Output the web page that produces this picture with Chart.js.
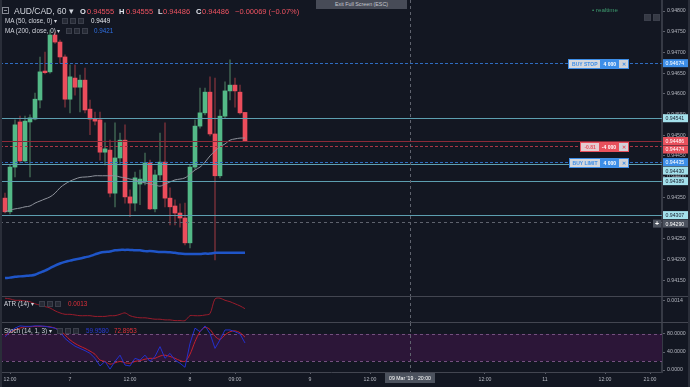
<!DOCTYPE html>
<html>
<head>
<meta charset="utf-8">
<title>AUD/CAD, 60</title>
<script src="https://cdn.jsdelivr.net/npm/chart.js@4.4.1/dist/chart.umd.min.js"></script>
<style>
  html, body { margin: 0; padding: 0; background: #131722; }
  #wrap { position: relative; width: 690px; height: 387px; overflow: hidden; background: #131722;
          font-family: "Liberation Sans", Arial, sans-serif; }
  canvas { position: absolute; left: 0; }
  .sep { position: absolute; left: 0; width: 690px; height: 1px; background: #434651; }
  .t { position: absolute; white-space: nowrap; line-height: 1; }
  .ic { position: absolute; width: 6px; height: 6px; background: #262a35; border: 1px solid #3b3f4b; box-sizing: border-box; }
  .ord { position: absolute; right: 61px; height: 10px; display: flex; box-sizing: border-box;
         font-size: 5px; font-weight: bold; line-height: 8px; }
  .ord span { display: block; text-align: center; }
</style>
</head>
<body>
<div id="wrap">
  <canvas id="mainChart" width="690" height="296" style="top:0"></canvas>
  <canvas id="atrChart" width="690" height="25" style="top:297px"></canvas>
  <canvas id="stochChart" width="690" height="64" style="top:323px"></canvas>

  <div class="sep" style="top:296px"></div>
  <div class="sep" style="top:322px"></div>
  <div style="position:absolute;left:0;top:0;width:2px;height:387px;background:#2a2e39"></div>
  <div style="position:absolute;left:688px;top:0;width:2px;height:387px;background:#2a2e39"></div>

  <!-- legend -->
  <div style="position:absolute;left:2px;top:7px;width:7px;height:7px;border:1px solid #868993;box-sizing:border-box"><div style="margin:2px 1px 0;height:1px;background:#868993"></div></div>
  <div class="t" style="left:14px;top:7px;font-size:8.5px;color:#d1d4dc">AUD/CAD, 60 ▾</div>
  <div class="t" style="left:80px;top:7.5px;font-size:7.5px;color:#e0e3eb;font-weight:bold">O</div>
  <div class="t" style="left:87px;top:7.5px;font-size:7.5px;color:#ef5361">0.94555</div>
  <div class="t" style="left:119px;top:7.5px;font-size:7.5px;color:#e0e3eb;font-weight:bold">H</div>
  <div class="t" style="left:126px;top:7.5px;font-size:7.5px;color:#ef5361">0.94555</div>
  <div class="t" style="left:158px;top:7.5px;font-size:7.5px;color:#e0e3eb;font-weight:bold">L</div>
  <div class="t" style="left:163px;top:7.5px;font-size:7.5px;color:#ef5361">0.94486</div>
  <div class="t" style="left:196px;top:7.5px;font-size:7.5px;color:#e0e3eb;font-weight:bold">C</div>
  <div class="t" style="left:202px;top:7.5px;font-size:7.5px;color:#ef5361">0.94486</div>
  <div class="t" style="left:235px;top:7.5px;font-size:7.5px;color:#ef5361">−0.00069 (−0.07%)</div>

  <div class="t" style="left:5px;top:18px;font-size:6.3px;color:#d1d4dc">MA (50, close, 0) ▾</div>
  <div class="ic" style="left:62px;top:18px"></div><div class="ic" style="left:70px;top:18px"></div><div class="ic" style="left:78px;top:18px"></div>
  <div class="t" style="left:91px;top:18px;font-size:6.3px;color:#e6e8ee">0.9449</div>

  <div class="t" style="left:5px;top:28px;font-size:6.3px;color:#d1d4dc">MA (200, close, 0) ▾</div>
  <div class="ic" style="left:66px;top:28px"></div><div class="ic" style="left:74px;top:28px"></div><div class="ic" style="left:82px;top:28px"></div>
  <div class="t" style="left:94px;top:28px;font-size:6.3px;color:#2f6fe0">0.9421</div>

  <div class="t" style="left:4px;top:301px;font-size:6.3px;color:#d1d4dc">ATR (14) ▾</div>
  <div class="ic" style="left:39px;top:301px"></div><div class="ic" style="left:47px;top:301px"></div><div class="ic" style="left:55px;top:301px"></div>
  <div class="t" style="left:68px;top:301px;font-size:6.3px;color:#e0303a">0.0013</div>

  <div class="t" style="left:4px;top:328px;font-size:6.3px;color:#d1d4dc">Stoch (14, 1, 3) ▾</div>
  <div class="ic" style="left:57px;top:328px"></div><div class="ic" style="left:65px;top:328px"></div><div class="ic" style="left:73px;top:328px"></div>
  <div class="t" style="left:86px;top:328px;font-size:6.3px;color:#2a3ad8">59.9580</div>
  <div class="t" style="left:114px;top:328px;font-size:6.3px;color:#e0303a">72.8953</div>

  <div class="t" style="left:316px;top:0;width:91px;height:9px;background:#474b57;color:#c5c8cf;font-size:5.3px;line-height:9px;text-align:center">Exit Full Screen (ESC)</div>

  <div class="t" style="left:592px;top:7px;font-size:6.2px;color:#3d9a6e">• realtime</div>
  <div class="ic" style="left:644px;top:14px;width:7px;height:7px;background:#363a45"></div>
  <div class="ic" style="left:653px;top:14px;width:7px;height:7px;background:#363a45"></div>
</div>

<script>
// hours since 6 Mar 2019 00:00 (one candle per hour)
const candleHours = [11, 12, 13, 14, 15, 16, 17, 18, 19, 20, 21, 22, 23, 24, 25, 26, 27, 28, 29, 30,
  31, 32, 33, 34, 35, 36, 37, 38, 39, 40, 41, 42, 43, 44, 45, 46, 47, 48, 49, 50,
  51, 52, 53, 54, 55, 56, 57, 58, 59];
const opens = [0.94348, 0.94315, 0.94423, 0.94532, 0.94438, 0.94532, 0.94539, 0.94585, 0.94655, 0.94653,
  0.94742, 0.94725, 0.94689, 0.94587, 0.94638, 0.94616, 0.94633, 0.94563, 0.94539, 0.94537,
  0.94459, 0.94464, 0.94360, 0.94445, 0.94488, 0.94351, 0.94336, 0.94382, 0.94389, 0.94433,
  0.94322, 0.94404, 0.94435, 0.94348, 0.94329, 0.94312, 0.94300, 0.94240, 0.94423, 0.94522,
  0.94554, 0.94604, 0.94503, 0.94402, 0.94546, 0.94607, 0.94621, 0.94604, 0.94555];
const highs = [0.94360, 0.94428, 0.94537, 0.94546, 0.94546, 0.94549, 0.94602, 0.94689, 0.94701, 0.94754,
  0.94749, 0.94730, 0.94694, 0.94670, 0.94670, 0.94645, 0.94662, 0.94585, 0.94556, 0.94556,
  0.94530, 0.94488, 0.94530, 0.94505, 0.94525, 0.94368, 0.94411, 0.94416, 0.94457, 0.94440,
  0.94416, 0.94505, 0.94530, 0.94373, 0.94344, 0.94334, 0.94336, 0.94428, 0.94537, 0.94614,
  0.94614, 0.94641, 0.94638, 0.94561, 0.94629, 0.94682, 0.94638, 0.94621, 0.94555];
const lows = [0.94312, 0.94310, 0.94399, 0.94433, 0.94435, 0.94399, 0.94537, 0.94566, 0.94648, 0.94650,
  0.94722, 0.94674, 0.94568, 0.94554, 0.94597, 0.94556, 0.94554, 0.94501, 0.94525, 0.94440,
  0.94428, 0.94351, 0.94327, 0.94428, 0.94336, 0.94303, 0.94317, 0.94332, 0.94380, 0.94320,
  0.94315, 0.94392, 0.94327, 0.94283, 0.94283, 0.94278, 0.94235, 0.94228, 0.94418, 0.94517,
  0.94549, 0.94498, 0.94199, 0.94397, 0.94542, 0.94585, 0.94568, 0.94551, 0.94486];
const closes = [0.94315, 0.94423, 0.94525, 0.94438, 0.94534, 0.94542, 0.94587, 0.94653, 0.94651, 0.94742,
  0.94725, 0.94689, 0.94587, 0.94641, 0.94616, 0.94633, 0.94561, 0.94539, 0.94534, 0.94459,
  0.94467, 0.94360, 0.94445, 0.94488, 0.94351, 0.94336, 0.94397, 0.94394, 0.94433, 0.94322,
  0.94404, 0.94435, 0.94348, 0.94327, 0.94312, 0.94300, 0.94240, 0.94423, 0.94522, 0.94554,
  0.94604, 0.94503, 0.94402, 0.94546, 0.94607, 0.94621, 0.94607, 0.94554, 0.94486];
const ma50 = [0.94315, 0.94319, 0.94322, 0.94324, 0.94327, 0.94329, 0.94336, 0.94341, 0.94346, 0.94351,
  0.94360, 0.94373, 0.94382, 0.94389, 0.94394, 0.94398, 0.94399, 0.94400, 0.94402, 0.94402,
  0.94402, 0.94402, 0.94402, 0.94399, 0.94397, 0.94394, 0.94392, 0.94387, 0.94385, 0.94382,
  0.94380, 0.94377, 0.94382, 0.94387, 0.94392, 0.94394, 0.94397, 0.94406, 0.94416, 0.94423,
  0.94435, 0.94450, 0.94462, 0.94472, 0.94479, 0.94488, 0.94491, 0.94493, 0.94493];
const ma200 = [0.94155, 0.94156, 0.94158, 0.94159, 0.94160, 0.94161, 0.94163, 0.94168, 0.94173, 0.94179,
  0.94185, 0.94190, 0.94194, 0.94197, 0.94200, 0.94202, 0.94205, 0.94208, 0.94212, 0.94216,
  0.94218, 0.94219, 0.94222, 0.94223, 0.94223, 0.94223, 0.94222, 0.94222, 0.94220, 0.94220,
  0.94219, 0.94218, 0.94218, 0.94217, 0.94216, 0.94214, 0.94213, 0.94213, 0.94213, 0.94213,
  0.94214, 0.94214, 0.94216, 0.94216, 0.94216, 0.94216, 0.94216, 0.94216, 0.94216];
const atr = [0.00144, 0.00143, 0.00141, 0.00141, 0.00140, 0.00139, 0.00136, 0.00134, 0.00132, 0.00130,
  0.00126, 0.00123, 0.00121, 0.00121, 0.00120, 0.00119, 0.00119, 0.00119, 0.00118, 0.00118,
  0.00118, 0.00119, 0.00119, 0.00121, 0.00123, 0.00119, 0.00117, 0.00116, 0.00116, 0.00115,
  0.00114, 0.00114, 0.00113, 0.00113, 0.00112, 0.00112, 0.00112, 0.00119, 0.00119, 0.00119,
  0.00120, 0.00122, 0.00143, 0.00144, 0.00141, 0.00139, 0.00136, 0.00133, 0.00129];
const stochK = [74, 85, 93, 98, 97, 97, 98, 98, 97, 95, 93, 85, 70, 61, 53, 48, 43, 37, 26, 9,
  19, 2, 19, 33, 11, 9, 26, 22, 33, 19, 30, 52, 26, 37, 22, 15, 6, 59, 93, 85,
  98, 81, 48, 67, 89, 89, 85, 80, 60];
const stochD = [78, 83, 89, 93, 96, 96, 97, 97, 97, 96, 93, 89, 78, 67, 59, 53, 48, 42, 35, 22,
  19, 13, 16, 19, 16, 15, 19, 21, 24, 26, 26, 31, 33, 30, 26, 21, 19, 35, 63, 85,
  95, 90, 75, 68, 78, 85, 87, 83, 73];

const priceTicks = [0.9415, 0.942, 0.9425, 0.943, 0.9435, 0.944, 0.9445, 0.945, 0.9455, 0.946, 0.9465, 0.947, 0.9475, 0.948];
const atrTicks = [0.0014];
const stochTicks = [0, 40, 80];
const stochBands = [20, 80];
const xTickHours = [12, 24, 36, 48, 57, 72, 84, 107, 119, 131, 140];
const xTickLabels = ['12:00', '7', '12:00', '8', '09:00', '9', '12:00', '12:00', '11', '12:00', '21:00'];

// horizontal levels on the price pane
const lineLevels = [0.94674, 0.94541, 0.94486, 0.94474, 0.94435, 0.94430, 0.94389, 0.94307];
const lineKinds = ['order', 'hline', 'price', 'position', 'order', 'hline', 'hline', 'hline'];
const orderPrices = [0.94674, 0.94474, 0.94435];
const orderLabels = ['BUY STOP', '-0.81', 'BUY LIMIT'];
const orderQtys = ['4 000', '-4 000', '4 000'];
const orderKinds = ['order', 'position', 'order'];

const crossHour = 92;
const crossPrice = 0.94290;
const crossLabel = "09 Mar '19 · 20:00";

const fontFamily = '"Liberation Sans", Arial, sans-serif';
const tickFont = { family: fontFamily, size: 5.2 };
const axisText = '#b2b5be';
const upColor = '#53b987', downColor = '#eb4d5c';
const upWick = '#3a5c4d', downWick = '#6a2d37';
const levelStyles = {
  order: { line: '#2f6cc0', dash: [3, 2], tag: '#3d8ee8', text: '#ffffff', light: '#d4d8de' },
  hline: { line: '#5d9fb0', dash: [], tag: '#a4e1ec', text: '#1a2030' },
  price: { line: '#8a2a38', dash: [], tag: '#e8505c', text: '#ffffff' },
  position: { line: '#a83444', dash: [3, 2], tag: '#e8505c', text: '#ffffff', light: '#e4cdd0' },
  cross: { line: '#5f636e', dash: [3, 3], tag: '#4c525e', text: '#ffffff' }
};

const xMin = 10, xMax = 142.4;

function rightAxis(min, max, ticks, digits) {
  return {
    type: 'linear', position: 'right', min: min, max: max,
    afterBuildTicks: s => { s.ticks = ticks.map(v => ({ value: v })); },
    afterFit: s => { s.width = 28; s.paddingTop = 0; s.paddingBottom = 0; },
    ticks: { callback: v => Number(v).toFixed(digits), font: tickFont, color: axisText, padding: 2 },
    grid: { drawOnChartArea: false, tickLength: 3, tickColor: '#5d606b' },
    border: { color: '#363a45', width: 2 }
  };
}

function hiddenX() {
  return { type: 'linear', min: xMin, max: xMax, offset: false, display: false };
}

function tag(ctx, yc, st, text) {
  ctx.fillStyle = st.tag;
  ctx.fillRect(663, yc - 4, 25, 8);
  ctx.fillStyle = st.text;
  ctx.font = '5.2px ' + fontFamily;
  ctx.textAlign = 'left';
  ctx.textBaseline = 'middle';
  ctx.fillText(text, 665.5, yc + 0.5);
}

// dashed vertical crosshair, shared by all panes
const crossV = {
  id: 'crossV',
  afterDatasetsDraw(chart) {
    const { ctx, chartArea: a, scales: { x } } = chart;
    const px = Math.round(x.getPixelForValue(crossHour)) + 0.5;
    ctx.save();
    ctx.strokeStyle = levelStyles.cross.line;
    ctx.lineWidth = 1;
    ctx.setLineDash(levelStyles.cross.dash);
    ctx.beginPath(); ctx.moveTo(px, a.top); ctx.lineTo(px, a.bottom); ctx.stroke();
    ctx.restore();
  }
};

const levelsPlugin = {
  id: 'levels',
  afterDatasetsDraw(chart) {
    const { ctx, chartArea: a, scales: { y } } = chart;
    ctx.save();
    ctx.lineWidth = 1;
    lineLevels.forEach((p, i) => {
      const st = levelStyles[lineKinds[i]];
      const py = Math.round(y.getPixelForValue(p)) + 0.5;
      ctx.strokeStyle = st.line;
      ctx.setLineDash(st.dash);
      ctx.beginPath(); ctx.moveTo(a.left, py); ctx.lineTo(a.right, py); ctx.stroke();
    });
    const cy = Math.round(y.getPixelForValue(crossPrice)) + 0.5;
    ctx.strokeStyle = levelStyles.cross.line;
    ctx.setLineDash(levelStyles.cross.dash);
    ctx.beginPath(); ctx.moveTo(a.left, cy); ctx.lineTo(a.right, cy); ctx.stroke();
    ctx.restore();
  },
  afterDraw(chart) {
    const { ctx, scales: { y } } = chart;
    const tags = lineLevels.map((p, i) => ({ p: p, st: levelStyles[lineKinds[i]], yc: y.getPixelForValue(p) }));
    tags.push({ p: crossPrice, st: levelStyles.cross, yc: y.getPixelForValue(crossPrice) });
    tags.sort((a, b) => a.yc - b.yc);
    let last = -100;
    ctx.save();
    tags.forEach(t => {
      t.yc = Math.max(t.yc, last + 8.5);
      last = t.yc;
      tag(ctx, t.yc, t.st, t.p.toFixed(5));
    });
    // "+" box next to the crosshair price
    const cy = tags.find(t => t.p === crossPrice).yc;
    ctx.fillStyle = levelStyles.cross.tag;
    ctx.fillRect(653, cy - 4, 8, 8);
    ctx.fillStyle = '#ffffff';
    ctx.textAlign = 'center';
    ctx.font = 'bold 7px ' + fontFamily;
    ctx.fillText('+', 657, cy + 0.5);
    ctx.restore();
    orderPrices.forEach((p, i) => {
      document.getElementById('ord' + i).style.top = (Math.round(y.getPixelForValue(p)) - 4.5) + 'px';
    });
  }
};

// order / position boxes
const wrap = document.getElementById('wrap');
orderPrices.forEach((p, i) => {
  const st = levelStyles[orderKinds[i]];
  const d = document.createElement('div');
  d.className = 'ord';
  d.id = 'ord' + i;
  d.style.border = '1px solid ' + st.tag;
  d.innerHTML = '<span style="background:' + st.light + ';color:' + st.tag + ';padding:0 3px">' + orderLabels[i] + '</span>' +
    '<span style="background:' + st.tag + ';color:#fff;padding:0 3px">' + orderQtys[i] + '</span>' +
    '<span style="background:#d0d3d9;color:' + st.tag + ';width:9px">✕</span>';
  wrap.appendChild(d);
});

const isUp = candleHours.map((h, i) => closes[i] >= opens[i]);

new Chart(document.getElementById('mainChart'), {
  type: 'line',
  data: {
    datasets: [
      {
        type: 'line', label: 'MA 50', order: 1,
        data: candleHours.map((h, i) => ({ x: h, y: ma50[i] })),
        borderColor: '#8f939c', borderWidth: 1, pointRadius: 0, tension: 0.4
      },
      {
        type: 'line', label: 'MA 200', order: 2,
        data: candleHours.map((h, i) => ({ x: h, y: ma200[i] })),
        borderColor: '#1f55c8', borderWidth: 2.5, pointRadius: 0, tension: 0.4
      },
      {
        type: 'bar', label: 'bodies', order: 3, grouped: false,
        data: candleHours.map((h, i) => ({ x: h, y: [opens[i], closes[i]] })),
        backgroundColor: isUp.map(u => u ? upColor : downColor),
        barThickness: 4, minBarLength: 1, borderWidth: 0
      },
      {
        type: 'bar', label: 'wicks', order: 4, grouped: false,
        data: candleHours.map((h, i) => ({ x: h, y: [lows[i], highs[i]] })),
        backgroundColor: isUp.map(u => u ? upWick : downWick),
        barThickness: 1, borderWidth: 0
      }
    ]
  },
  options: {
    responsive: false, animation: false,
    layout: { padding: 0 },
    plugins: { legend: { display: false }, tooltip: { enabled: false } },
    scales: {
      x: hiddenX(),
      y: rightAxis(0.941116, 0.948266, priceTicks, 5)
    }
  },
  plugins: [levelsPlugin, crossV]
});

new Chart(document.getElementById('atrChart'), {
  type: 'line',
  data: {
    datasets: [{
      label: 'ATR (14)',
      data: candleHours.map((h, i) => ({ x: h, y: atr[i] })),
      borderColor: '#9a1c2c', borderWidth: 1, pointRadius: 0, tension: 0.3
    }]
  },
  options: {
    responsive: false, animation: false,
    layout: { padding: 0 },
    plugins: { legend: { display: false }, tooltip: { enabled: false } },
    scales: {
      x: hiddenX(),
      y: rightAxis(0.0011, 0.001457, atrTicks, 4)
    }
  },
  plugins: [crossV]
});

const stochBg = {
  id: 'stochBg',
  beforeDatasetsDraw(chart) {
    const { ctx, chartArea: a, scales: { y } } = chart;
    const top = y.getPixelForValue(stochBands[1]);
    const bot = y.getPixelForValue(stochBands[0]);
    ctx.save();
    ctx.fillStyle = '#2c1638';
    ctx.fillRect(a.left, top, a.right - a.left, bot - top);
    ctx.strokeStyle = '#74507f';
    ctx.lineWidth = 1;
    ctx.setLineDash([3, 3]);
    [top, bot].forEach(py => {
      const yy = Math.round(py) + 0.5;
      ctx.beginPath(); ctx.moveTo(a.left, yy); ctx.lineTo(a.right, yy); ctx.stroke();
    });
    ctx.restore();
  },
  afterDraw(chart) {
    const { ctx, chartArea: a, scales: { x } } = chart;
    const px = x.getPixelForValue(crossHour);
    ctx.save();
    ctx.fillStyle = '#4c525e';
    ctx.fillRect(px - 25, a.bottom + 1, 50, 10);
    ctx.fillStyle = '#ffffff';
    ctx.font = '5.2px ' + fontFamily;
    ctx.textAlign = 'center';
    ctx.textBaseline = 'middle';
    ctx.fillText(crossLabel, px, a.bottom + 6.5);
    ctx.restore();
  }
};

new Chart(document.getElementById('stochChart'), {
  type: 'line',
  data: {
    datasets: [
      {
        label: '%K',
        data: candleHours.map((h, i) => ({ x: h, y: stochK[i] })),
        borderColor: '#2430cc', borderWidth: 1, pointRadius: 0, tension: 0
      },
      {
        label: '%D',
        data: candleHours.map((h, i) => ({ x: h, y: stochD[i] })),
        borderColor: '#c41f2e', borderWidth: 1, pointRadius: 0, tension: 0.3
      }
    ]
  },
  options: {
    responsive: false, animation: false,
    layout: { padding: 0 },
    plugins: { legend: { display: false }, tooltip: { enabled: false } },
    scales: {
      x: {
        type: 'linear', min: xMin, max: xMax, offset: false,
        afterBuildTicks: s => { s.ticks = xTickHours.map(v => ({ value: v })); },
        afterFit: s => { s.height = 15; s.paddingLeft = 0; s.paddingRight = 0; },
        ticks: {
          autoSkip: false, maxRotation: 0, padding: 2, font: tickFont, color: axisText,
          callback: v => xTickLabels[xTickHours.indexOf(v)]
        },
        grid: { drawOnChartArea: false, tickLength: 2, tickColor: '#5d606b' },
        border: { color: '#434651', width: 1 }
      },
      y: rightAxis(-4.44, 104.44, stochTicks, 4)
    }
  },
  plugins: [stochBg, crossV]
});
</script>
</body>
</html>
